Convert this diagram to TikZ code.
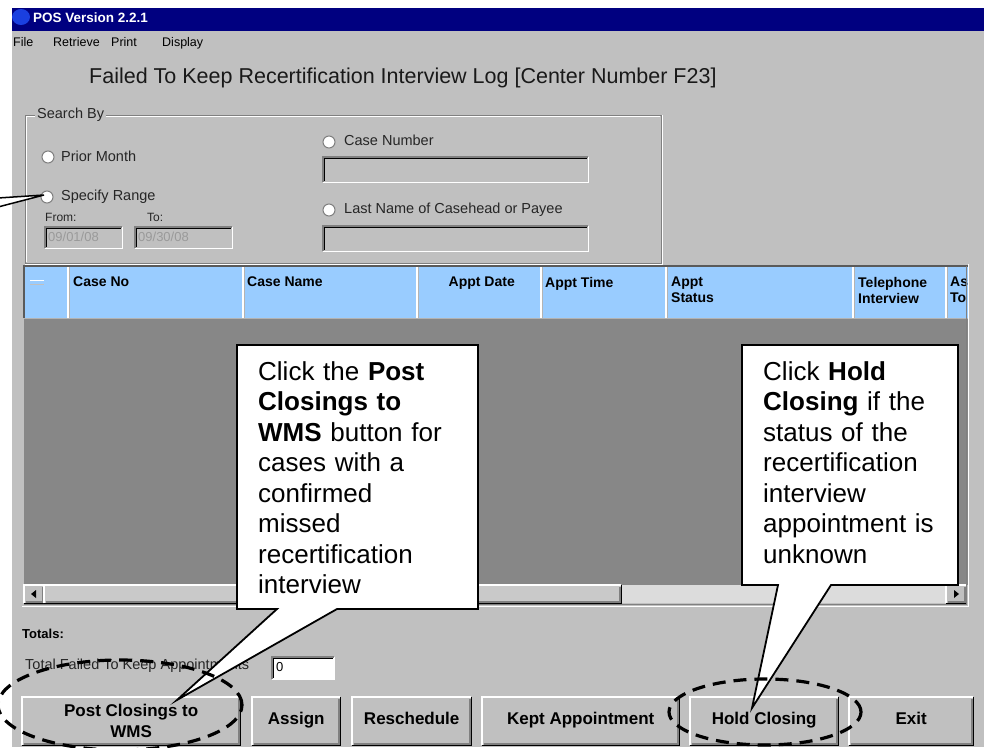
\documentclass[tikz,border=0pt]{standalone}
\usepackage{fontspec}
\setmainfont{Liberation Sans}
\definecolor{winbg}{HTML}{C0C0C0}
\definecolor{titlebar}{HTML}{000080}
\definecolor{iconblue}{HTML}{1A3FE0}
\definecolor{hdrblue}{HTML}{99CCFF}
\definecolor{bodygrey}{HTML}{878787}
\definecolor{shadowgrey}{HTML}{808080}
\definecolor{disabledtxt}{HTML}{9A9A9A}
\definecolor{scrollpat}{HTML}{DCDCDC}
\newcommand{\raisedbevel}[1]{%
  \draw[white,line width=1.5pt] (#1.south west) -- (#1.north west) -- (#1.north east);
  \draw[black,line width=1.5pt] (#1.south west) -- (#1.south east) -- (#1.north east);
  \draw[shadowgrey,line width=1.5pt] ([shift={(1.5pt,1.5pt)}]#1.south west) -- ([shift={(-1.5pt,1.5pt)}]#1.south east) -- ([shift={(-1.5pt,-1.5pt)}]#1.north east);}
\newcommand{\sunkenbevel}[1]{%
  \draw[shadowgrey,line width=1.2pt] (#1.south west) -- (#1.north west) -- (#1.north east);
  \draw[black,line width=0.8pt] ([shift={(1.2pt,1.2pt)}]#1.south west) -- ([shift={(1.2pt,-1.2pt)}]#1.north west) -- ([shift={(-1.2pt,-1.2pt)}]#1.north east);
  \draw[white,line width=1.2pt] (#1.south west) -- (#1.south east) -- (#1.north east);}
\begin{document}
\begin{tikzpicture}[x=1pt,y=-1pt,
  gt/.style={inner sep=0pt, text height=0.72em, text depth=0pt, anchor=west},
  menu/.style={gt, font=\fontsize{12.5}{15}\selectfont},
  guitext/.style={gt, font=\fontsize{14.5}{17}\selectfont, text=black!85},
  smalltext/.style={gt, font=\fontsize{12}{14}\selectfont, text=black!85},
  hdr/.style={inner sep=0pt, anchor=north west, align=left, font=\fontsize{14}{16}\selectfont\bfseries},
  btn/.style={fill=winbg, inner sep=0pt, anchor=north west, align=center, minimum height=48pt, font=\fontsize{17}{21}\selectfont\bfseries},
  onebtn/.style={btn, text height=0.72em, text depth=0pt},
  field/.style={fill=winbg, inner sep=0pt, anchor=north west},
  radio/.style={circle, minimum size=12pt, inner sep=0pt, fill=white, draw=shadowgrey, line width=1pt},
  callout/.style={fill=white, draw=black, line width=1.8pt, line join=miter},
  calltext/.style={inner sep=0pt, anchor=base west, align=left, text width=212pt, font=\fontsize{26}{30.5}\selectfont},
  ringmark/.style={draw=black, line width=3.2pt, dash pattern=on 13pt off 8pt}]
\useasboundingbox (0,0) rectangle (984,747);
\clip (0,0) rectangle (984,747);
% background and window
\fill[white] (0,0) rectangle (984,747);
\fill[winbg] (12,31) rectangle (984,747);
\fill[titlebar] (12,8) rectangle (984,31);
\fill[iconblue] (21,17) ellipse [x radius=9pt, y radius=8pt];
\node[gt, text=white, font=\fontsize{13.5}{16}\selectfont\bfseries] (wintitle) at (33,19) {POS Version 2.2.1};
% menu
\node[menu] (mfile) at (13,43) {File};
\node[menu] (mretr) at (53,43) {Retrieve};
\node[menu] (mprint) at (111,43) {Print};
\node[menu] (mdisp) at (162,43) {Display};
% heading
\node[gt, font=\fontsize{21.5}{25}\selectfont, text=black!90] (heading) at (89,80) {Failed To Keep Recertification Interview Log [Center Number F23]};
% search group box
\draw[shadowgrey, line width=1pt] (25,115) rectangle (661,263);
\draw[white, line width=1pt] (26,116) -- (660,116);
\draw[white, line width=1pt] (26,116) -- (26,262);
\draw[white, line width=1pt] (25,264) -- (662,264) -- (662,115);
\node[guitext, fill=winbg, inner xsep=2pt] (searchby) at (35,115) {Search By};
\node[radio] (rprior) at (48,157) {};
\node[guitext] (tprior) at (61,158) {Prior Month};
\node[radio] (rrange) at (47,197) {};
\node[guitext] (trange) at (61,197) {Specify Range};
\node[smalltext] (tfrom) at (45,218) {From:};
\node[smalltext] (tto) at (147,218) {To:};
\node[field, minimum width=77pt, minimum height=21pt] (ffrom) at (45,227) {};
\node[field, minimum width=97pt, minimum height=21pt] (fto) at (135,227) {};
\sunkenbevel{ffrom}
\sunkenbevel{fto}
\node[gt, text=disabledtxt, font=\fontsize{13}{15}\selectfont] (dfrom) at ([xshift=3pt]ffrom.west) {09/01/08};
\node[gt, text=disabledtxt, font=\fontsize{13}{15}\selectfont] (dto) at ([xshift=3pt]fto.west) {09/30/08};
\node[radio] (rcase) at (329,142) {};
\node[guitext] (tcase) at (344,142) {Case Number};
\node[field, minimum width=265pt, minimum height=25pt] (fcase) at (323,157) {};
\sunkenbevel{fcase}
\node[radio] (rlast) at (329,210) {};
\node[guitext] (tlast) at (344,210) {Last Name of Casehead or Payee};
\node[field, minimum width=265pt, minimum height=25pt] (flast) at (323,226) {};
\sunkenbevel{flast}
% table
\fill[hdrblue] (24,267) rectangle (968,318);
\fill[bodygrey] (24,318) rectangle (968,585);
\draw[shadowgrey!70!black, line width=1.5pt] (24,318) -- (24,266) -- (968,266);
\foreach \cx in {68,243,417,541,666,853,946} {
  \draw[white, line width=1.2pt] (\cx,267) -- (\cx,318);
  \draw[shadowgrey!60, line width=0.6pt] (\cx+1.2,267) -- (\cx+1.2,318);
}
\draw[white, line width=0.8pt] (30,280) -- (44,280);
\draw[shadowgrey!50, line width=0.8pt] (30,284) -- (44,284);
\draw[shadowgrey!60, line width=1pt] (24,318) -- (968,318);
\node[hdr] (hcaseno) at (73,277) {Case No};
\node[hdr] (hcasename) at (247,277) {Case Name};
\node[hdr, anchor=north east] (happtdate) at (515,277) {Appt Date};
\node[hdr] (happttime) at (545,277) {Appt Time};
\node[hdr] (happtstatus) at (671,277) {Appt\\Status};
\node[hdr] (htel) at (858,277) {Telephone\\Interview};
\node[hdr] (hassign) at (950,277) {As\\To};
% scrollbar
\fill[scrollpat] (24,585) rectangle (966,603);
\node[field, minimum width=20pt, minimum height=18pt] (sleft) at (24,585) {};
\node[field, minimum width=577pt, minimum height=18pt, fill=winbg!85!white] (sthumb) at (44,585) {};
\node[field, minimum width=20pt, minimum height=18pt] (sright) at (946,585) {};
\raisedbevel{sleft}
\raisedbevel{sthumb}
\raisedbevel{sright}
\fill[black] (31,594) -- (36,590) -- (36,598) -- cycle;
\fill[black] (959,594) -- (954,590) -- (954,598) -- cycle;
\draw[shadowgrey, line width=1pt] (966,266) -- (966,604) -- (24,604);
\draw[white, line width=1pt] (968,264) -- (968,606) -- (22,606);
% totals
\node[gt, font=\fontsize{13}{15}\selectfont\bfseries] (ttotals) at (22,635) {Totals:};
\node[guitext, font=\fontsize{14.5}{17}\selectfont] (tfailed) at (25,666) {Total Failed To Keep Appointments};
\node[field, fill=white, minimum width=62pt, minimum height=22pt] (ftotal) at (272,657) {};
\sunkenbevel{ftotal}
\node[gt, font=\fontsize{13}{15}\selectfont] (tzero) at ([xshift=4pt]ftotal.west) {0};
% buttons
\node[btn, minimum width=218pt] (bpost) at (22,697) {Post Closings to\\WMS};
\node[onebtn, minimum width=88pt] (bassign) at (252,697) {Assign};
\node[onebtn, minimum width=119pt] (bresched) at (352,697) {Reschedule};
\node[onebtn, minimum width=197pt] (bkept) at (482,697) {Kept Appointment};
\node[onebtn, minimum width=148pt] (bhold) at (690,697) {Hold Closing};
\node[onebtn, minimum width=124pt] (bexit) at (849,697) {Exit};
\raisedbevel{bpost}
\raisedbevel{bassign}
\raisedbevel{bresched}
\raisedbevel{bkept}
\raisedbevel{bhold}
\raisedbevel{bexit}
% callouts
\coordinate (tip1) at (177,700);
\coordinate (tip2) at (752,708);
\coordinate (tip0) at (44,195);
\path[callout] (237,345) -- (478,345) -- (478,609) -- (337,609) -- (tip1) -- (277,609) -- (237,609) -- cycle;
\node[calltext] (c1text) at (258,380) {Click the \textbf{Post}\\\textbf{Closings to}\\\textbf{WMS} button for\\cases with a\\confirmed\\missed\\recertification\\interview};
\path[callout] (742,345) -- (958,345) -- (958,585) -- (831,585) -- (tip2) -- (778,585) -- (742,585) -- cycle;
\node[calltext, text width=192pt] (c2text) at (763,380) {Click \textbf{Hold}\\\textbf{Closing} if the\\status of the\\recertification\\interview\\appointment is\\unknown};
\fill[white] (-2,198) -- (tip0) -- (-2,207) -- cycle;
\draw[black, line width=1.5pt, line join=miter] (-2,198) -- (tip0) -- (-2,207);
% dashed rings
\draw[ringmark] (120,705) ellipse [x radius=122pt, y radius=45pt];
\draw[ringmark] (765,712) ellipse [x radius=96pt, y radius=33pt];
\end{tikzpicture}
\end{document}
